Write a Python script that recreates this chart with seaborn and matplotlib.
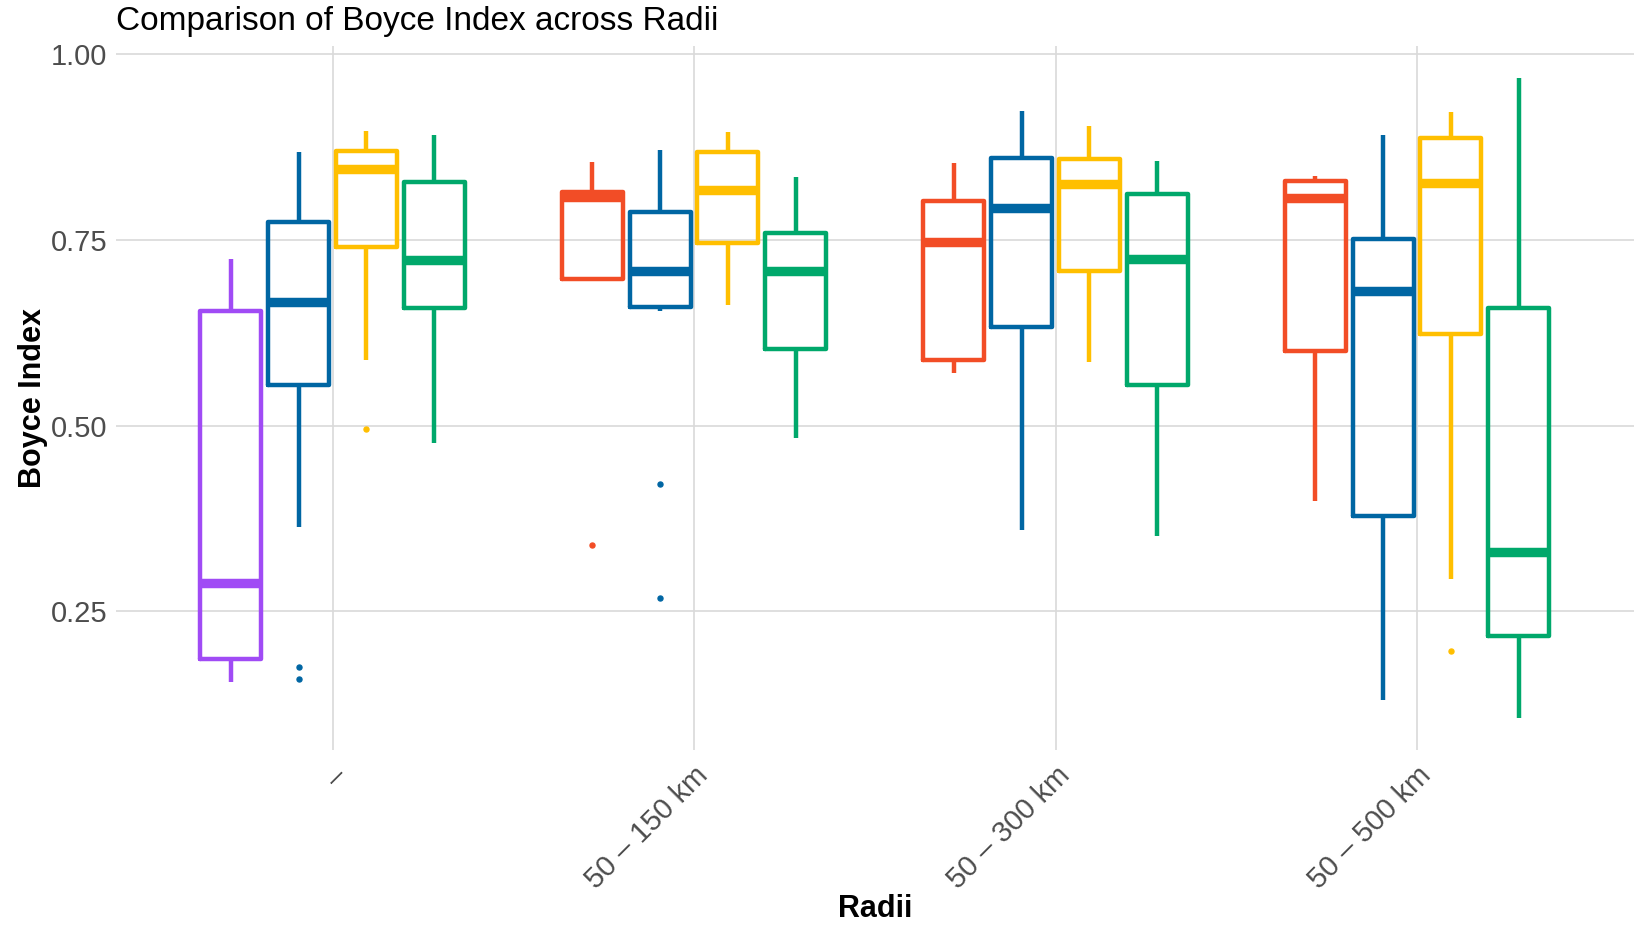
import matplotlib
matplotlib.use("Agg")
import matplotlib.pyplot as plt
import pandas as pd
import seaborn as sns

# categories
radii = ["–", "50 – 150 km", "50 – 300 km", "50 – 500 km"]
methods = ["M1", "M2", "M3", "M4", "M5"]
colors = {"M1": "#A04BF5", "M2": "#F24D26", "M3": "#0066A3",
          "M4": "#FFBF00", "M5": "#00A86B"}

# box summaries, one entry per radius (None = no box)
low_whisker = {"M1": [0.155, None, None, None],
               "M2": [None, 0.697, 0.571, 0.399],
               "M3": [0.364, 0.655, 0.360, 0.131],
               "M4": [0.589, 0.662, 0.586, 0.294],
               "M5": [0.477, 0.483, 0.352, 0.106]}
q1 = {"M1": [0.186, None, None, None],
      "M2": [None, 0.698, 0.588, 0.601],
      "M3": [0.555, 0.660, 0.633, 0.379],
      "M4": [0.741, 0.746, 0.708, 0.624],
      "M5": [0.658, 0.603, 0.555, 0.217]}
median = {"M1": [0.288, None, None, None],
          "M2": [None, 0.808, 0.748, 0.806],
          "M3": [0.666, 0.709, 0.793, 0.681],
          "M4": [0.846, 0.817, 0.826, 0.827],
          "M5": [0.723, 0.708, 0.724, 0.330]}
q3 = {"M1": [0.654, None, None, None],
      "M2": [None, 0.815, 0.803, 0.829],
      "M3": [0.774, 0.788, 0.861, 0.752],
      "M4": [0.870, 0.869, 0.859, 0.887],
      "M5": [0.828, 0.759, 0.812, 0.658]}
high_whisker = {"M1": [0.724, None, None, None],
                "M2": [None, 0.855, 0.854, 0.836],
                "M3": [0.869, 0.871, 0.924, 0.891],
                "M4": [0.897, 0.896, 0.904, 0.922],
                "M5": [0.891, 0.835, 0.856, 0.968]}
outliers = {"M2": [[], [0.339], [], []],
            "M3": [[0.175, 0.159], [0.421, 0.268], [], []],
            "M4": [[0.495], [], [], [0.197]]}


def box_values(lo, a, m, b, hi, outs):
    # values whose quartiles/whiskers reproduce the drawn box exactly
    k = len(outs) + 1
    return sorted(outs) + [lo] + [a] * k + [m] + [b] * k + [hi] * k


rows = []
for meth in methods:
    for i, r in enumerate(radii):
        if median[meth][i] is None:
            continue
        outs = outliers.get(meth, [[], [], [], []])[i]
        vals = box_values(low_whisker[meth][i], q1[meth][i], median[meth][i],
                          q3[meth][i], high_whisker[meth][i], outs)
        for v in vals:
            rows.append({"Radii": r, "Method": meth, "Boyce": v})
df = pd.DataFrame(rows)

sns.set_theme(style="whitegrid")
plt.rcParams["font.family"] = ["Liberation Sans", "DejaVu Sans"]

fig = plt.figure(figsize=(16.4, 9.3), dpi=100)
ax = fig.add_axes([0.0705, 0.1932, 0.9258, 0.7571])

box_kws = dict(x="Radii", y="Boyce", hue="Method", order=radii, palette=colors,
               fill=False, width=0.75, gap=0.1, linewidth=3.2, whis=1.5,
               showcaps=False, legend=False, ax=ax,
               medianprops={"linewidth": 6.8},
               flierprops={"marker": "o", "markersize": 3.6})

first = df[df["Radii"] == radii[0]]
rest = df[df["Radii"] != radii[0]]
sns.boxplot(data=first, hue_order=["M1", "M3", "M4", "M5"], **box_kws)
sns.boxplot(data=rest, hue_order=["M2", "M3", "M4", "M5"], **box_kws)

# solid outlier dots, like the reference
for ln in ax.lines:
    if ln.get_marker() == "o":
        ln.set_markerfacecolor(ln.get_markeredgecolor())

ax.set_xlim(-0.6, 3.6)
ax.set_ylim(0.063, 1.011)
ax.set_yticks([0.25, 0.50, 0.75, 1.00])
ax.set_yticklabels(["0.25", "0.50", "0.75", "1.00"])
ax.set_xticks(range(len(radii)))
ax.set_xticklabels(radii, rotation=45, ha="right", va="top",
                   rotation_mode="anchor")
ax.tick_params(axis="both", labelsize=21, labelcolor="#4D4D4D", length=0)
ax.tick_params(axis="x", pad=8)
ax.tick_params(axis="y", pad=6)
ax.grid(True, color="#D9D9D9", linewidth=1.2)
for s in ax.spines.values():
    s.set_visible(False)

ax.set_xlabel("Radii", fontsize=22, fontweight="bold", labelpad=0, color="black")
ax.set_ylabel("Boyce Index", fontsize=22, fontweight="bold", labelpad=2,
              color="black")
ax.set_title("Comparison of Boyce Index across Radii", loc="left",
             fontsize=24, pad=12, color="black")

fig.savefig("out.png", dpi=100)
